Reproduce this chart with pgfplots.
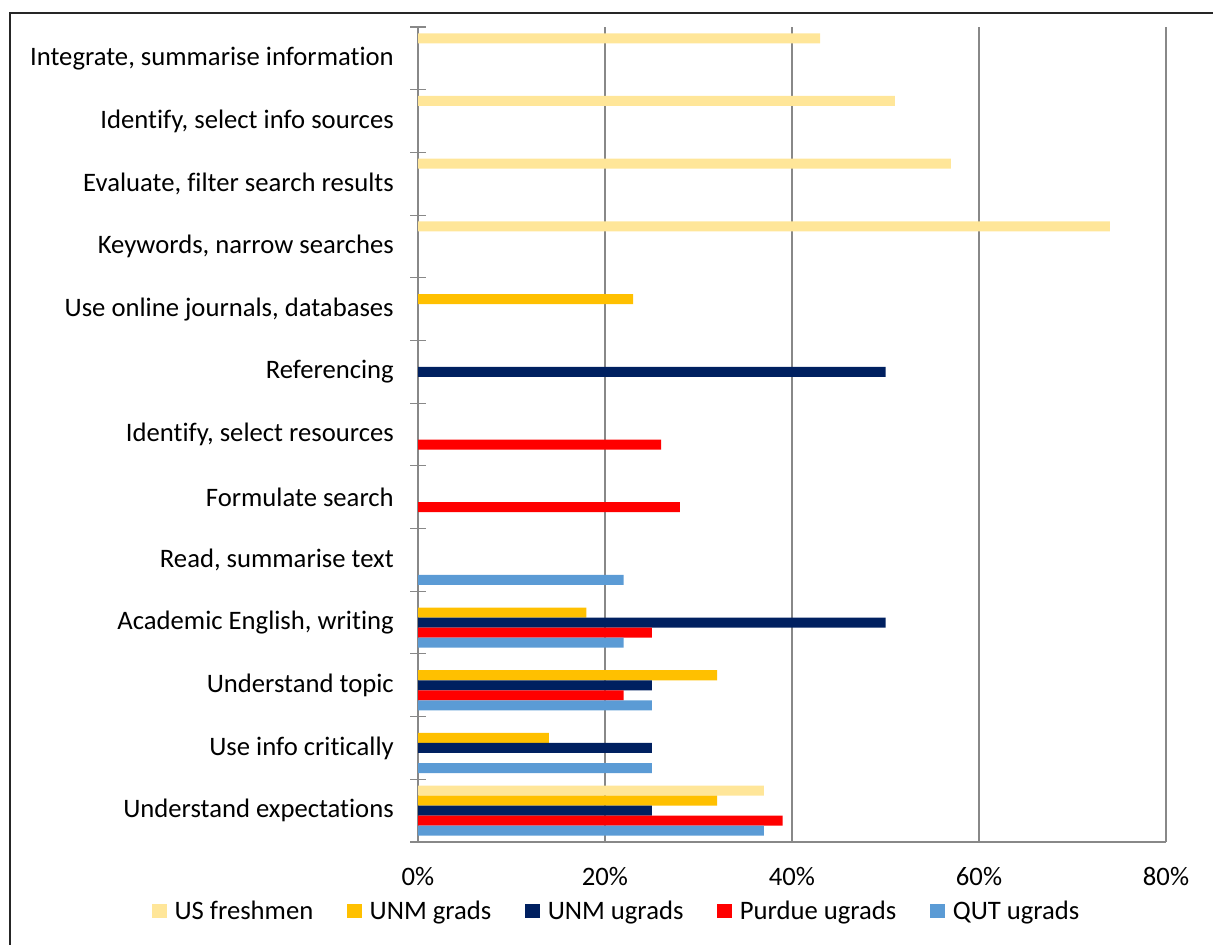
\documentclass[border=0pt]{standalone}
\usepackage{pgfplots}
\pgfplotsset{compat=1.18}
\usepackage{fontspec}
\setmainfont{Carlito}[Ligatures=CommonOff]
\definecolor{usf}{HTML}{FFE699}
\definecolor{unmg}{HTML}{FFC000}
\definecolor{unmu}{HTML}{002060}
\definecolor{pur}{HTML}{FF0000}
\definecolor{qut}{HTML}{5B9BD5}
\definecolor{gridc}{HTML}{888888}
\begin{document}
\begin{tikzpicture}
\useasboundingbox (0pt,0pt) rectangle (909.75pt,-708.75pt);
\draw[line width=1.1pt, black!85] (7.5pt,-720pt) -- (7.5pt,-9.75pt) -- (920pt,-9.75pt);
\begin{axis}[
  at={(313.5pt,-631.5pt)}, anchor=south west,
  scale only axis, width=561pt, height=611.25pt,
  xbar, bar width=0.16,
  xmin=0, xmax=80, ymin=-0.5, ymax=12.5,
  axis x line*=bottom, axis y line*=left,
  axis line style={gridc, line width=0.8pt},
  xtick={0,20,...,80},
  xticklabel={\pgfmathprintnumber{\tick}\%},
  xmajorgrids, major grid style={gridc, line width=0.8pt},
  ytick={0,...,12},
  yticklabels={Understand expectations, Use info critically, Understand topic, {Academic English, writing}, {Read, summarise text}, Formulate search, {Identify, select resources}, Referencing, {Use online journals, databases}, {Keywords, narrow searches}, {Evaluate, filter search results}, {Identify, select info sources}, {Integrate, summarise information}},
  minor ytick={-0.5,0.5,...,12.5},
  major tick length=0pt, minor tick length=12pt, tick align=center,
  minor tick style={gridc, line width=0.8pt},
  ticklabel style={font=\fontsize{20}{24}\selectfont, text=black},
  yticklabel style={inner sep=0pt, xshift=-18pt},
  xticklabel style={inner sep=0pt, yshift=-19pt},
  /pgf/number format/assume math mode=true,
  legend columns=5,
  legend style={at={(0.2660,-0.0847)}, anchor=center, draw=none, fill=none, font=\fontsize{20}{24}\selectfont,
    /tikz/every even column/.append style={column sep=23.3pt},
    /tikz/every odd column/.append style={column sep=4pt}},
  legend image code/.code={\fill[#1] (0pt,-5.5pt) rectangle (11pt,5.5pt);},
]
\addplot[fill=usf, draw=none, bar shift=0.32] coordinates {(37,0) (74,9) (57,10) (51,11) (43,12)};
\addlegendentry{US freshmen}
\addplot[fill=unmg, draw=none, bar shift=0.16] coordinates {(32,0) (14,1) (32,2) (18,3) (23,8)};
\addlegendentry{UNM grads}
\addplot[fill=unmu, draw=none, bar shift=0] coordinates {(25,0) (25,1) (25,2) (50,3) (50,7)};
\addlegendentry{UNM ugrads}
\addplot[fill=pur, draw=none, bar shift=-0.16] coordinates {(39,0) (22,2) (25,3) (28,5) (26,6)};
\addlegendentry{Purdue ugrads}
\addplot[fill=qut, draw=none, bar shift=-0.32] coordinates {(37,0) (25,1) (25,2) (22,3) (22,4)};
\addlegendentry{QUT ugrads}
\end{axis}
\end{tikzpicture}
\end{document}
